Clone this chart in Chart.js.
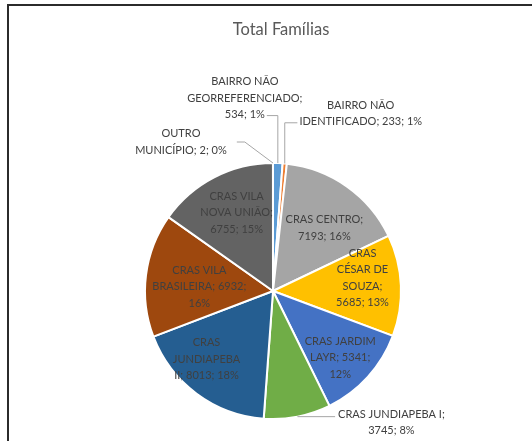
<!DOCTYPE html>
<html>
<head>
<meta charset="utf-8">
<title>Total Famílias</title>
<script src="https://cdn.jsdelivr.net/npm/chart.js@4.4.1/dist/chart.umd.min.js"></script>
<style>
  body { margin: 0; background: #fff; }
  canvas { display: block; }
</style>
</head>
<body>
<canvas id="pizza" width="532" height="441"></canvas>
<script>
var titulo = "Total Famílias";
var bairros = [
    "BAIRRO NÃO GEORREFERENCIADO",
    "BAIRRO NÃO IDENTIFICADO",
    "CRAS CENTRO",
    "CRAS CÉSAR DE SOUZA",
    "CRAS JARDIM LAYR",
    "CRAS JUNDIAPEBA I",
    "CRAS JUNDIAPEBA II",
    "CRAS VILA BRASILEIRA",
    "CRAS VILA NOVA UNIÃO",
    "OUTRO MUNICÍPIO"
];
var familias = [534, 233, 7193, 5685, 5341, 3745, 8013, 6932, 6755, 2];
var cores = [
    "#5B9BD5", "#ED7D31", "#A5A5A5", "#FFC000", "#4472C4",
    "#70AD47", "#255E91", "#9E480E", "#636363", "#997300"
];

// onde vai cada rótulo: quebra = palavras por linha
// dentro: fr = fração do raio no ângulo médio; fora: dx/dy a partir da borda da fatia
var rotulos = [
    { fora: true, dx: -33, dy: -65, quebra: [2, 1, 2], linha: "sobeEsq" },
    { fora: true, dx: 76, dy: -50, quebra: [2, 3], linha: "sobeDir" },
    { fr: 0.64, dx: 4, dy: 4, quebra: [2, 2] },
    { fr: 0.70, dx: 0, dy: -9, quebra: [1, 2, 1, 2] },
    { fr: 0.74, dx: -3, dy: 3, quebra: [2, 2, 1] },
    { fora: true, dx: 94, dy: 6, quebra: [3, 2], linha: "reta" },
    { fr: 0.74, dx: -10, dy: -8, quebra: [1, 1, 3] },
    { fr: 0.58, dx: 0, dy: 5, quebra: [2, 2, 1] },
    { fr: 0.67, dx: 3, dy: -2, quebra: [2, 2, 2] },
    { fora: true, dx: -92, dy: -21, quebra: [1, 3], linha: "diag" }
];

var FONTE = "11px Lato";
var ALT_LINHA = 16.5;

var moldura = {
    id: 'moldura',
    beforeDraw: function(chart) {
        var ctx = chart.ctx;
        ctx.save();
        ctx.strokeStyle = "#2b2b2b";
        ctx.lineWidth = 2;
        ctx.beginPath();
        ctx.moveTo(8, 441);
        ctx.lineTo(8, 5);
        ctx.lineTo(532, 5);
        ctx.stroke();
        ctx.fillStyle = "#595959";
        ctx.font = "16.5px Lato";
        ctx.textAlign = "center";
        ctx.textBaseline = "middle";
        ctx.fillText(titulo, 281, 30);
        ctx.restore();
    }
};

var rotulosPlugin = {
    id: 'rotulos',
    afterDatasetsDraw: function(chart) {
        var ctx = chart.ctx;
        var meta = chart.getDatasetMeta(0);
        var total = familias.reduce(function(a, b) { return a + b; }, 0);
        ctx.save();
        ctx.font = FONTE;
        ctx.fillStyle = "#404040";
        ctx.textAlign = "center";
        ctx.textBaseline = "middle";
        meta.data.forEach(function(arc, i) {
            var p = arc.getProps(['x', 'y', 'startAngle', 'endAngle', 'outerRadius'], true);
            var meio = (p.startAngle + p.endAngle) / 2;
            var cfg = rotulos[i];
            var pct = Math.round(familias[i] / total * 100);
            var palavras = bairros[i].split(' ');
            palavras[palavras.length - 1] += ';';
            palavras.push(familias[i] + ';', pct + '%');
            var linhas = [], k = 0;
            cfg.quebra.forEach(function(n) {
                linhas.push(palavras.slice(k, k + n).join(' '));
                k += n;
            });

            var ax = p.x + p.outerRadius * Math.cos(meio);
            var ay = p.y + p.outerRadius * Math.sin(meio);
            var cx, cy;
            if (cfg.fora) {
                cx = ax + cfg.dx;
                cy = ay + cfg.dy;
            } else {
                cx = p.x + cfg.fr * p.outerRadius * Math.cos(meio) + cfg.dx;
                cy = p.y + cfg.fr * p.outerRadius * Math.sin(meio) + cfg.dy;
            }
            var y0 = cy - (linhas.length - 1) / 2 * ALT_LINHA;
            linhas.forEach(function(t, j) {
                ctx.fillText(t, cx, y0 + j * ALT_LINHA);
            });

            if (!cfg.fora) return;
            var larg = linhas.map(function(t) { return ctx.measureText(t).width; });
            var maxL = Math.max.apply(null, larg);
            ctx.save();
            ctx.strokeStyle = "#a6a6a6";
            ctx.lineWidth = 1;
            ctx.beginPath();
            if (cfg.linha === "sobeEsq") {
                var yu = y0 + (linhas.length - 1) * ALT_LINHA + 1;
                ctx.moveTo(ax, ay);
                ctx.lineTo(ax, yu);
                ctx.lineTo(cx + larg[larg.length - 1] / 2 + 2, yu);
            } else if (cfg.linha === "sobeDir") {
                var yd = y0 + ALT_LINHA + 1;
                ctx.moveTo(ax, ay);
                ctx.lineTo(ax, yd);
                ctx.lineTo(cx - larg[1] / 2 - 2, yd);
            } else if (cfg.linha === "reta") {
                ctx.moveTo(ax, ay);
                ctx.lineTo(cx - larg[0] / 2 - 3, ay);
            } else if (cfg.linha === "diag") {
                var xr = cx + maxL / 2 + 10;
                ctx.moveTo(xr, cy);
                ctx.lineTo(xr + 8, cy);
                ctx.lineTo(ax, ay);
            }
            ctx.stroke();
            ctx.restore();
        });
        ctx.restore();
    }
};

new Chart(document.getElementById('pizza'), {
    type: 'pie',
    data: {
        labels: bairros,
        datasets: [{
            data: familias,
            backgroundColor: cores,
            borderColor: "#ffffff",
            borderWidth: 2
        }]
    },
    options: {
        responsive: false,
        animation: false,
        events: [],
        layout: { padding: { left: 144, right: 130, top: 162, bottom: 21 } },
        plugins: {
            legend: { display: false },
            title: { display: false },
            tooltip: { enabled: false }
        }
    },
    plugins: [moldura, rotulosPlugin]
});
</script>
</body>
</html>
